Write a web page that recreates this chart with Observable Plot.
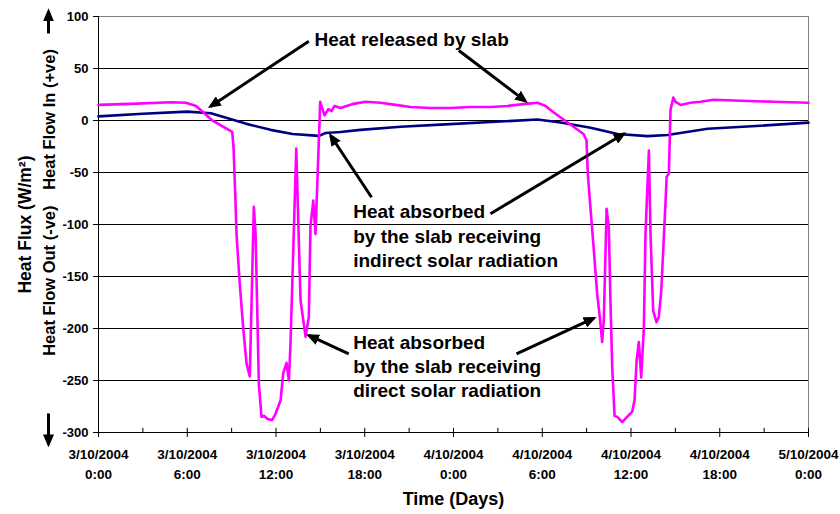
<!DOCTYPE html>
<html><head><meta charset="utf-8">
<script src="https://cdn.jsdelivr.net/npm/d3@7"></script>
<script src="https://cdn.jsdelivr.net/npm/@observablehq/plot@0.6"></script>
<style>
body{margin:0;background:#fff}
#chart svg text{font-weight:bold}
</style>
</head><body><div id="chart"></div>
<script>
// Time in hours from 3/10/2004 0:00
const directHours = [0, 2.2, 4.9, 5.9, 6.6, 7.7, 9.04, 9.13, 9.26, 9.33, 9.55, 9.78, 10.01, 10.23, 10.50, 10.62, 10.84, 11.02, 11.18, 11.43, 11.74, 11.97, 12.31, 12.49, 12.71, 12.87, 12.98, 13.37, 13.54, 13.66, 14.00, 14.22, 14.33, 14.52, 14.67, 14.99, 15.28, 15.55, 15.75, 15.96, 16.36, 17.24, 18.05, 19.07, 20.08, 21.1, 22.45, 23.8, 25.15, 26.5, 27.65, 28.87, 29.68, 30.22, 30.76, 31.71, 32.79, 32.99, 33.08, 33.22, 33.45, 33.71, 33.89, 34.05, 34.16, 34.35, 34.50, 34.61, 34.73, 34.89, 35.07, 35.41, 35.74, 36.08, 36.24, 36.38, 36.53, 36.69, 36.87, 36.98, 37.21, 37.32, 37.50, 37.72, 37.88, 38.05, 38.23, 38.34, 38.41, 38.56, 38.67, 38.86, 39.01, 39.35, 40.03, 40.71, 41.59, 43.41, 45.64, 48];
const directFlux = [15, 16, 17.5, 17, 14, 0, -11, -26, -77, -109, -157, -199, -234, -246, -83, -109, -253, -285, -284, -287, -288, -282, -269, -243, -233, -250, -215, -27, -115, -173, -208, -189, -102, -77, -109, 18, 5, 11, 9, 14, 12, 16, 18, 17, 15, 13, 12, 12, 13, 13, 14, 16, 17, 14, 8, -2, -13, -19, -51, -77, -118, -166, -189, -213, -192, -85, -103, -173, -237, -284, -285, -290, -285, -280, -269, -231, -213, -247, -199, -109, -29, -109, -183, -194, -189, -163, -109, -77, -54, -51, 10, 22, 18, 15, 17, 18, 20, 19, 18, 17];
const indirectHours = [0, 3, 6, 7.6, 9.94, 11.63, 13.12, 14.67, 14.87, 15.35, 16.36, 17.71, 20.42, 23.12, 27.18, 29.68, 31.24, 33.27, 35.09, 37.12, 38.47, 41.18, 44.76, 48];
const indirectFlux = [4, 6.5, 8.5, 7, -3, -9, -13, -14.5, -15, -12, -11, -9, -6, -4, -1, 1, -2, -7, -13, -15, -14, -8, -5, -2];

const xTicks = [0, 6, 12, 18, 24, 30, 36, 42, 48];
const xTickLabels = ["3/10/2004\n0:00", "3/10/2004\n6:00", "3/10/2004\n12:00", "3/10/2004\n18:00", "4/10/2004\n0:00", "4/10/2004\n6:00", "4/10/2004\n12:00", "4/10/2004\n18:00", "5/10/2004\n0:00"];
const xMinorTicks = [0, 3, 6, 9, 12, 15, 18, 21, 24, 27, 30, 33, 36, 39, 42, 45, 48];
const yTicks = [-300, -250, -200, -150, -100, -50, 0, 50, 100];

const annText = ["Heat released by slab", "Heat absorbed", "by the slab receiving", "indirect solar radiation", "Heat absorbed", "by the slab receiving", "direct solar radiation"];
const annX = [14.6, 17.22, 17.22, 17.22, 17.22, 17.22, 17.22];
const annY = [72.1, -94.2, -118, -141, -219.5, -243, -266];

// [x1, y1, x2 (head), y2 (head)]
const annArrows = [
  [14.22, 76.3, 7.57, 13.5],
  [24.36, 67.3, 28.87, 18.6],
  [18.46, -73.8, 15.69, -14.4],
  [26.5, -89.7, 35.52, -12.8],
  [16.92, -224.3, 14.22, -206.7],
  [28.26, -224.3, 33.49, -190.1],
  [-3.38, 83.7, -3.38, 105],
  [-3.38, -281.7, -3.38, -311.5]
];

const yTitles = ["Heat Flux (W/m²)", "Heat Flow In (+ve)", "Heat Flow Out (-ve)"];
const yTitleX = [-4.94, -3.31, -3.31];
const yTitleY = [-100, 1, -154];
const yTitleSize = [17.5, 16.5, 16.5];

const direct = directHours.map((h, i) => ({h, v: directFlux[i]}));
const indirect = indirectHours.map((h, i) => ({h, v: indirectFlux[i]}));
const anns = annText.map((t, i) => ({t, x: annX[i], y: annY[i]}));
const ytit = yTitles.map((t, i) => ({t, x: yTitleX[i], y: yTitleY[i], s: yTitleSize[i]}));

const filledArrow = (color, context) => {
  const ns = "http://www.w3.org/2000/svg";
  const m = context.document.createElementNS(ns, "marker");
  m.setAttribute("viewBox", "-10 -5.5 13 11");
  m.setAttribute("markerWidth", 13);
  m.setAttribute("markerHeight", 11);
  m.setAttribute("markerUnits", "userSpaceOnUse");
  m.setAttribute("orient", "auto");
  const p = context.document.createElementNS(ns, "path");
  p.setAttribute("d", "M-10,-5.5L3,0L-10,5.5Z");
  p.setAttribute("fill", color);
  p.setAttribute("stroke", "none");
  m.appendChild(p);
  return m;
};

const chart = Plot.plot({
  width: 840,
  height: 514,
  marginLeft: 98,
  marginRight: 32,
  marginTop: 16,
  marginBottom: 82,
  style: {fontFamily: "'Liberation Sans', Arial, sans-serif", background: "#fff", overflow: "visible"},
  x: {domain: [0, 48]},
  y: {domain: [-300, 100]},
  marks: [
    Plot.ruleY(yTicks.filter(d => d > -300 && d < 100), {stroke: "#000", strokeWidth: 1}),
    Plot.ruleY([100], {stroke: "#808080", strokeWidth: 1}),
    Plot.ruleX([48], {stroke: "#808080", strokeWidth: 1}),
    Plot.ruleX([0], {stroke: "#000", strokeWidth: 1}),
    Plot.ruleY([-300], {stroke: "#000", strokeWidth: 1}),
    Plot.ruleX(xMinorTicks, {y1: -300, y2: -296, stroke: "#000"}),
    Plot.axisY({ticks: yTicks, tickSize: 5, tickPadding: 5, fontSize: 13, label: null, tickFormat: d => String(d)}),
    Plot.axisX({ticks: xTicks, tickSize: 5, tickPadding: 8, fontSize: 13.5, lineHeight: 1.45, label: null, tickFormat: d => xTickLabels[xTicks.indexOf(d)]}),
    Plot.line(indirect, {x: "h", y: "v", stroke: "#000080", strokeWidth: 2.6}),
    Plot.line(direct, {x: "h", y: "v", stroke: "#ff00ff", strokeWidth: 2.6}),
    Plot.link(annArrows, {x1: d => d[0], y1: d => d[1], x2: d => d[2], y2: d => d[3], stroke: "#000", strokeWidth: 3, markerEnd: filledArrow}),
    Plot.text(anns, {x: "x", y: "y", text: "t", textAnchor: "start", lineAnchor: "bottom", fontSize: 19, fill: "#000"}),
    Plot.text(ytit, {x: "x", y: "y", text: "t", rotate: -90, textAnchor: "middle", lineAnchor: "middle", fontSize: "s", fill: "#000"}),
    Plot.text(["Time (Days)"], {x: 24, y: -364, text: d => d, textAnchor: "middle", lineAnchor: "middle", fontSize: 18, fill: "#000"})
  ]
});
document.getElementById("chart").appendChild(chart);
</script>
</body></html>
